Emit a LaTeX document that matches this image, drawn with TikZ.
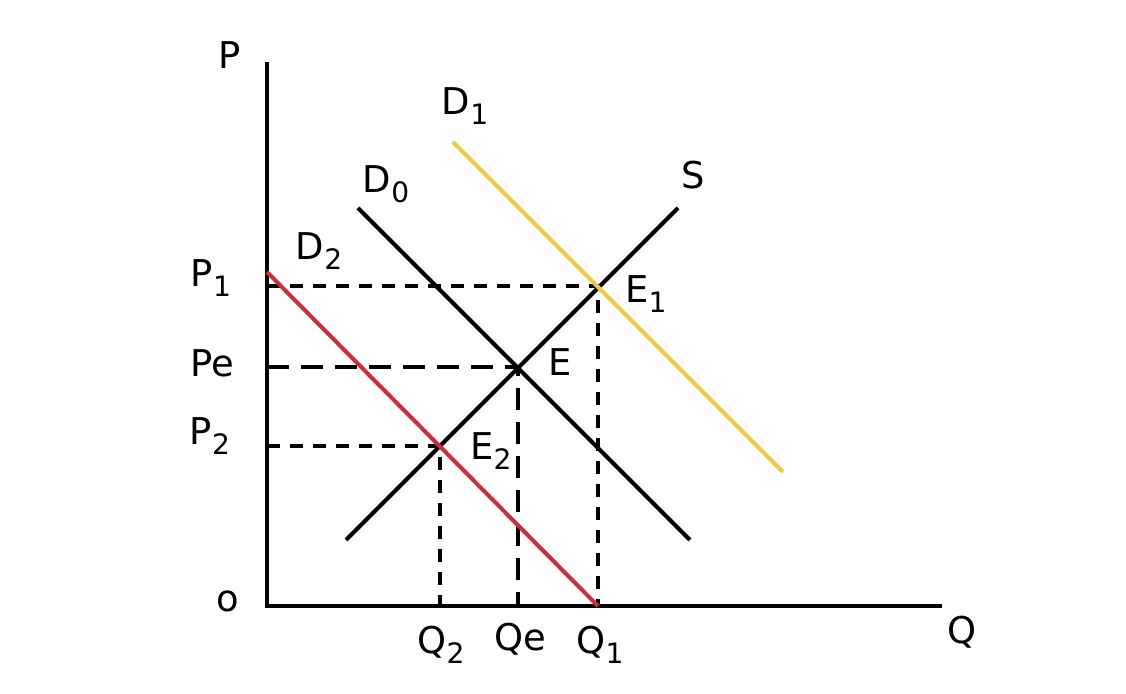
\documentclass[tikz,border=0pt]{standalone}
\usepackage{fontspec}
\setmainfont{DejaVu Sans}
\usepackage{tikz}
\usetikzlibrary{positioning}
\definecolor{curveyellow}{RGB}{240,200,72}
\definecolor{curvered}{RGB}{200,48,62}
\newcommand{\sbs}[1]{\raisebox{-0.5ex}{\fontsize{8}{9}\selectfont #1}}

\begin{document}
\begin{tikzpicture}[
  axis/.style={line width=1.15pt, black},
  curve/.style={line width=1.15pt, black},
  guide/.style={line width=1.0pt, black, dash pattern=on 0.13cm off 0.1cm},
  guidethick/.style={line width=1.4pt, black, dash pattern=on 0.22cm off 0.12cm},
  lbl/.style={font=\fontsize{10.5}{12}\selectfont, inner sep=1pt},
]
  \useasboundingbox (-2.67,-0.88) rectangle (8.59,6.06);

  % axes
  \coordinate (O)    at (0,0);
  \coordinate (ytop) at (0,5.44);
  \coordinate (xend) at (6.75,0);
  \draw[axis] (ytop) -- (O) -- (xend);

  % equilibrium points and axis feet
  \coordinate (E)  at (2.51,2.39);
  \coordinate (E1) at (3.31,3.20);
  \coordinate (E2) at (1.73,1.60);
  \coordinate (p1) at (0,3.20);
  \coordinate (pe) at (0,2.39);
  \coordinate (p2) at (0,1.60);
  \coordinate (q1) at (3.31,0);
  \coordinate (qe) at (2.51,0);
  \coordinate (q2) at (1.73,0);

  % guides
  \draw[guide] (p1) -- (E1) -- (q1);
  \draw[guidethick] (pe) -- (E) -- (qe);
  \draw[guide] (p2) -- (E2) -- (q2);

  % curves
  \coordinate (s0)  at (0.79,0.66);  \coordinate (s1)  at (4.11,3.98);
  \coordinate (d00) at (0.91,3.98);  \coordinate (d01) at (4.23,0.66);
  \coordinate (d10) at (1.86,4.64);  \coordinate (d11) at (5.16,1.34);
  \coordinate (d20) at (0,3.34);     \coordinate (d21) at (3.31,0);
  \draw[curve] (s0) -- (s1);
  \draw[curve] (d00) -- (d01);
  \draw[curve, curveyellow] (d10) -- (d11);
  \draw[curve, curvered] (d20) -- (d21);

  % labels
  \node[lbl] (lP)  at (-0.37,5.51) {P};
  \node[lbl] (lo)  at (-0.39,0.05) {o};
  \node[lbl] (lQ)  at (6.95,-0.26) {Q};
  \node[lbl] (lP1) at (-0.56,3.28) {P\sbs{1}};
  \node[lbl] (lPe) at (-0.55,2.43) {Pe};
  \node[lbl] (lP2) at (-0.57,1.70) {P\sbs{2}};
  \node[lbl] (lQ2) at (1.74,-0.39) {Q\sbs{2}};
  \node[lbl] (lQe) at (2.53,-0.33) {Qe};
  \node[lbl] (lQ1) at (3.33,-0.39) {Q\sbs{1}};
  \node[lbl] (lD1) at (1.98,5.00) {D\sbs{1}};
  \node[lbl] (lD0) at (1.19,4.22) {D\sbs{0}};
  \node[lbl] (lD2) at (0.52,3.55) {D\sbs{2}};
  \node[lbl] (lS)  at (4.26,4.31) {S};
  \node[lbl] (lE1) at (3.79,3.12) {E\sbs{1}};
  \node[lbl] (lE)  at (2.93,2.44) {E};
  \node[lbl] (lE2) at (2.24,1.55) {E\sbs{2}};
\end{tikzpicture}
\end{document}
